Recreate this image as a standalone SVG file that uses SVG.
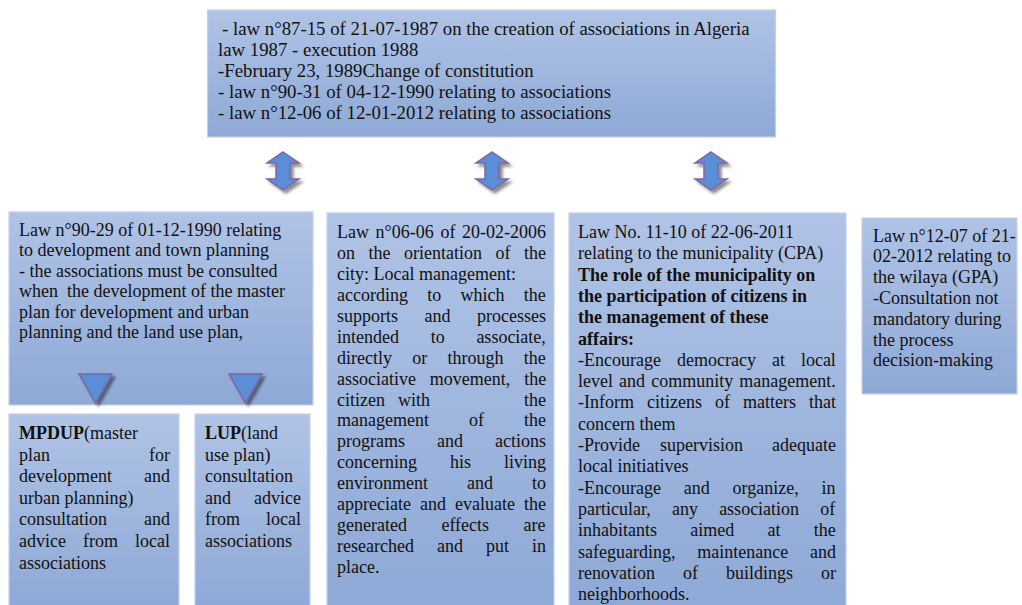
<svg xmlns="http://www.w3.org/2000/svg" width="1022" height="605" viewBox="0 0 1022 605">
<style>
.box{fill:url(#bg);stroke:#c3d1ec;stroke-width:1.2}
.t{font-family:"Liberation Serif","Times New Roman",serif;font-size:18px;fill:#111}
.tt{font-size:18.8px}
.b{font-weight:bold}
.arr{fill:#5a8fd8;stroke:#8064a2;stroke-width:1.5;filter:url(#sh)}
</style>
<defs>
<linearGradient id="bg" x1="0" y1="0" x2="0" y2="1">
<stop offset="0" stop-color="#b0c3e6"/>
<stop offset="1" stop-color="#8ea9d6"/>
</linearGradient>
<filter id="sh" x="-30%" y="-30%" width="180%" height="180%">
<feGaussianBlur in="SourceAlpha" stdDeviation="1.8"/>
<feOffset dx="3" dy="3" result="o"/>
<feComponentTransfer><feFuncA type="linear" slope="0.45"/></feComponentTransfer>
<feMerge><feMergeNode/><feMergeNode in="SourceGraphic"/></feMerge>
</filter>
</defs>
<rect width="1022" height="605" fill="#fff"/>

<g id="top">
<rect class="box" x="207.5" y="10" width="568" height="127"/>
<text class="t tt" x="222" y="35">- law n°87-15 of 21-07-1987 on the creation of associations in Algeria</text>
<text class="t tt" x="218" y="56">law 1987 - execution 1988</text>
<text class="t tt" x="218" y="77">-February 23, 1989Change of constitution</text>
<text class="t tt" x="218" y="98">- law n°90-31 of 04-12-1990 relating to associations</text>
<text class="t tt" x="218" y="119">- law n°12-06 of 12-01-2012 relating to associations</text>
</g>

<g id="law9029">
<rect class="box" x="9" y="212" width="304" height="193"/>
<text class="t" x="19" y="235.7">Law n°90-29 of 01-12-1990 relating</text>
<text class="t" x="19" y="256.2">to development and town planning</text>
<text class="t" x="19" y="276.7">- the associations must be consulted</text>
<text class="t" x="19" y="297.2" xml:space="preserve">when  the development of the master</text>
<text class="t" x="19" y="317.7">plan for development and urban</text>
<text class="t" x="19" y="338.2">planning and the land use plan,</text>
</g>

<g id="mpdup">
<rect class="box" x="9" y="414" width="170" height="196"/>
<text class="t" x="19" y="439"><tspan class="b">MPDUP</tspan>(master</text>
<text class="t" y="460.6"><tspan x="19">plan</tspan><tspan x="170" text-anchor="end">for</tspan></text>
<text class="t" y="482.2"><tspan x="19">development</tspan><tspan x="170" text-anchor="end">and</tspan></text>
<text class="t" x="19" y="503.8">urban planning)</text>
<text class="t" y="525.4"><tspan x="19">consultation</tspan><tspan x="170" text-anchor="end">and</tspan></text>
<text class="t" y="547"><tspan x="19">advice</tspan><tspan x="83">from</tspan><tspan x="170" text-anchor="end">local</tspan></text>
<text class="t" x="19" y="568.6">associations</text>
</g>

<g id="lup">
<rect class="box" x="195" y="414" width="115" height="196"/>
<text class="t" x="205" y="439"><tspan class="b">LUP</tspan>(land</text>
<text class="t" x="205" y="460.6">use plan)</text>
<text class="t" x="205" y="482.2">consultation</text>
<text class="t" y="503.8"><tspan x="205">and</tspan><tspan x="301" text-anchor="end">advice</tspan></text>
<text class="t" y="525.4"><tspan x="205">from</tspan><tspan x="301" text-anchor="end">local</tspan></text>
<text class="t" x="205" y="547">associations</text>
</g>

<g id="law0606">
<rect class="box" x="327" y="213" width="227" height="396"/>
<text class="t" x="337" y="238.3" word-spacing="2.1">Law n°06-06 of 20-02-2006</text>
<text class="t" x="337" y="259.2" word-spacing="9">on the orientation of the</text>
<text class="t" x="337" y="280.1">city: Local management:</text>
<text class="t" x="337" y="301" word-spacing="14.8">according to which the</text>
<text class="t" x="337" y="321.9" word-spacing="22">supports and processes</text>
<text class="t" x="337" y="342.8" word-spacing="27.2">intended to associate,</text>
<text class="t" x="337" y="363.7" word-spacing="15.8">directly or through the</text>
<text class="t" x="337" y="384.6" word-spacing="9.4">associative movement, the</text>
<text class="t" y="405.5"><tspan x="337">citizen</tspan><tspan x="398">with</tspan><tspan x="546" text-anchor="end">the</tspan></text>
<text class="t" x="337" y="426.4" word-spacing="35.5">management of the</text>
<text class="t" x="337" y="447.3" word-spacing="27.5">programs and actions</text>
<text class="t" x="337" y="468.2" word-spacing="28.5">concerning his living</text>
<text class="t" x="337" y="489.1" word-spacing="34.5">environment and to</text>
<text class="t" x="337" y="510" word-spacing="4.5">appreciate and evaluate the</text>
<text class="t" x="337" y="530.9" word-spacing="30">generated effects are</text>
<text class="t" x="337" y="551.8" word-spacing="18.5">researched and put in</text>
<text class="t" x="337" y="572.7">place.</text>
</g>

<g id="law1110">
<rect class="box" x="569" y="213" width="277" height="396"/>
<text class="t" x="578" y="238">Law No. 11-10 of 22-06-2011</text>
<text class="t" x="578" y="259.3">relating to the municipality (CPA)</text>
<text class="t b" x="578" y="280.6">The role of the municipality on</text>
<text class="t b" x="578" y="301.9">the participation of citizens in</text>
<text class="t b" x="578" y="323.2">the management of these</text>
<text class="t b" x="578" y="344.5">affairs:</text>
<text class="t" x="578" y="365.8" word-spacing="11.5">-Encourage democracy at local</text>
<text class="t" x="578" y="387.1" word-spacing="1.6">level and community management.</text>
<text class="t" x="578" y="408.4" word-spacing="8.5">-Inform citizens of matters that</text>
<text class="t" x="578" y="429.7">concern them</text>
<text class="t" y="451"><tspan x="578">-Provide</tspan><tspan x="660">supervision</tspan><tspan x="836" text-anchor="end">adequate</tspan></text>
<text class="t" x="578" y="472.3">local initiatives</text>
<text class="t" x="578" y="493.6" word-spacing="18.3">-Encourage and organize, in</text>
<text class="t" x="578" y="514.9" word-spacing="16.7">particular, any association of</text>
<text class="t" x="578" y="536.2" word-spacing="28.8">inhabitants aimed at the</text>
<text class="t" x="578" y="557.5" word-spacing="17.3">safeguarding, maintenance and</text>
<text class="t" x="578" y="578.8" word-spacing="23.5">renovation of buildings or</text>
<text class="t" x="578" y="600.1">neighborhoods.</text>
</g>

<g id="law1207">
<rect class="box" x="862" y="218" width="155" height="176"/>
<text class="t" x="873" y="241.5">Law n°12-07 of 21-</text>
<text class="t" x="873" y="262.3">02-2012 relating to</text>
<text class="t" x="873" y="283.1">the wilaya (GPA)</text>
<text class="t" x="873" y="303.9">-Consultation not</text>
<text class="t" x="873" y="324.7">mandatory during</text>
<text class="t" x="873" y="345.5">the process</text>
<text class="t" x="873" y="366.3">decision-making</text>
</g>

<g id="connectors">
<polygon class="arr" points="283,152 299,163 290,163 290,179 299,179 283,190 267,179 276,179 276,163 267,163"/>
<polygon class="arr" points="492,152 508,163 499,163 499,179 508,179 492,190 476,179 485,179 485,163 476,163"/>
<polygon class="arr" points="711,152 727,163 718,163 718,179 727,179 711,190 695,179 704,179 704,163 695,163"/>
<polygon class="arr" points="79,374 112,374 95.5,403"/>
<polygon class="arr" points="229,374 262,374 245.5,403"/>
</g>
</svg>
